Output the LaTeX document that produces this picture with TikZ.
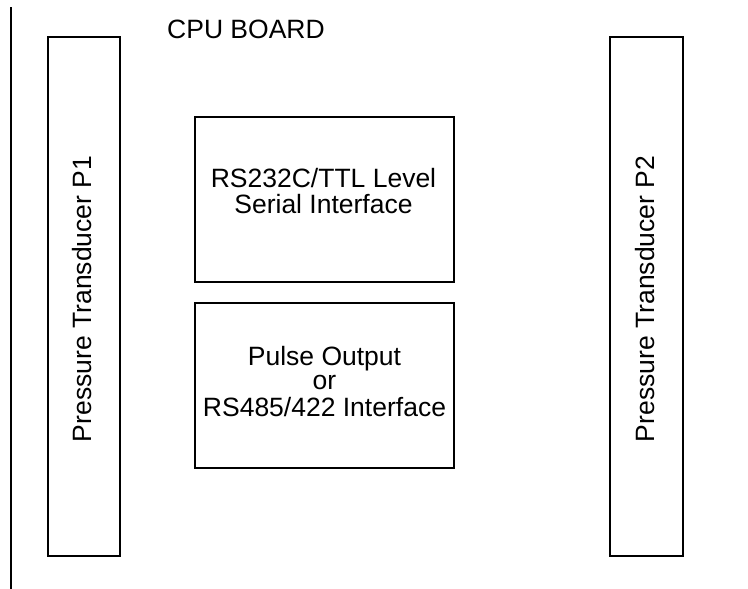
\documentclass[tikz,border=0pt]{standalone}
\usepackage{fontspec}
\setmainfont{Liberation Sans}
\begin{document}
\begin{tikzpicture}[x=1pt,y=-1pt,
  outline/.style={draw=black,line width=2pt,inner sep=0pt,outer sep=0pt},
  lbl/.style={inner sep=0pt,font=\fontsize{26.5}{26}\selectfont},
  every node/.append style={text=black}]
  \useasboundingbox (0,0) rectangle (748,589);

  % board edge on the left
  \coordinate (railtop) at (11,7);
  \coordinate (railbot) at (11,589);
  \draw[line width=2pt] (railtop) -- (railbot);

  % title
  \node[lbl,anchor=base west] (title) at (167,38) {CPU BOARD};

  % transducer blocks
  \node[outline,minimum width=72pt,minimum height=518.7pt] (p1) at (84.3,296.35) {};
  \node[lbl,anchor=base,rotate=90] (p1txt) at (91.7,299) {Pressure Transducer P1};

  \node[outline,minimum width=72.4pt,minimum height=518.7pt] (p2) at (646.5,296.35) {};
  \node[lbl,anchor=base,rotate=90] (p2txt) at (654,299) {Pressure Transducer P2};

  % interface blocks
  \node[outline,minimum width=259.3pt,minimum height=165.6pt] (serial) at (324.65,199.5) {};
  \node[lbl,anchor=base] (serial1) at (323.5,187) {RS232C/TTL Level};
  \node[lbl,anchor=base] (serial2) at (323.5,213) {Serial Interface};

  \node[outline,minimum width=259.3pt,minimum height=165.3pt] (pulse) at (324.65,385.65) {};
  \node[lbl,anchor=base] (pulse1) at (324.5,365) {Pulse Output};
  \node[lbl,anchor=base] (pulse2) at (324.5,389.5) {or};
  \node[lbl,anchor=base] (pulse3) at (324.5,416) {RS485/422 Interface};
\end{tikzpicture}
\end{document}
